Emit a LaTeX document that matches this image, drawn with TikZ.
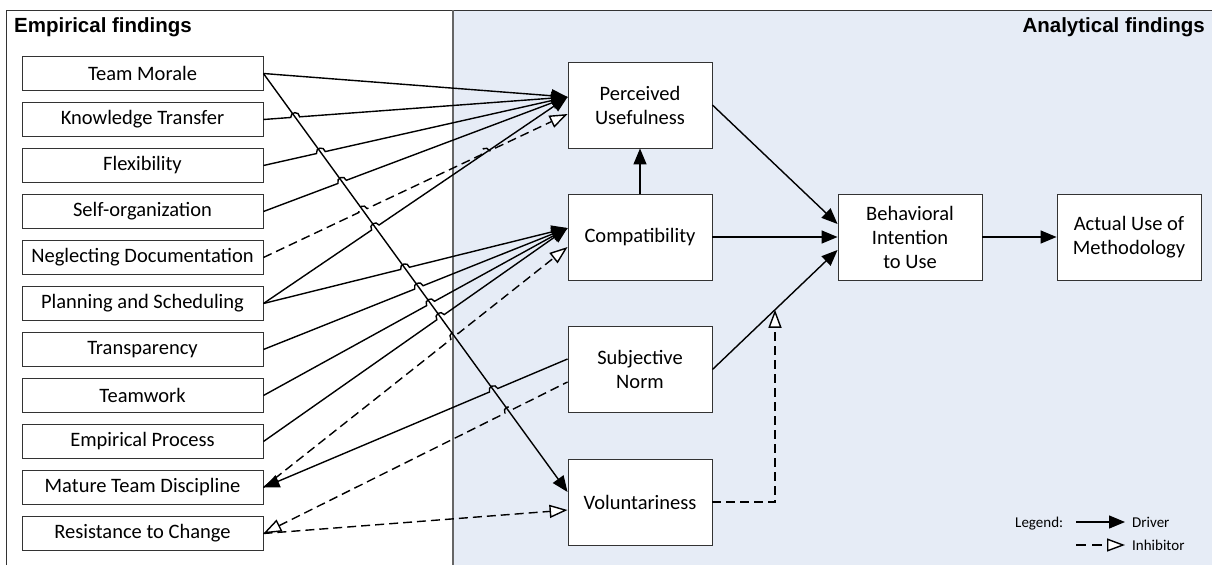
\documentclass[tikz,border=0pt]{standalone}
\usepackage{fontspec}
\setmainfont{Carlito}
\newfontfamily\titlefont{Liberation Sans}
\usetikzlibrary{arrows.meta,calc,intersections}
\definecolor{bgblue}{RGB}{230,236,246}
% hop over the path named #4: style, from, to, path name
\newcommand\crosshop[4]{%
  \path[name path=hoptmp] (#2) -- (#3);
  \path[name intersections={of=#4 and hoptmp, by=hX}];
  \coordinate (hA) at ($(hX)!4.5pt!(#2)$);
  \coordinate (hB) at ($(hX)!4.5pt!(#3)$);
  \draw[#1] (#2) -- (hA) .. controls ($(hA)!6pt!90:(hX)$) and ($(hB)!6pt!-90:(hX)$) .. (hB) -- (#3);
}
\begin{document}
\begin{tikzpicture}[x=1pt,y=-1pt,
  lbox/.style={draw=black!80, line width=0.9pt, fill=white, minimum width=241pt, minimum height=34pt, inner sep=0pt, font=\fontsize{20.5}{24}\selectfont},
  rbox/.style={draw=black!80, line width=0.9pt, fill=white, minimum width=144pt, minimum height=86pt, inner sep=0pt, align=center, font=\fontsize{20.5}{24}\selectfont},
  ttl/.style={font=\titlefont\bfseries\fontsize{20.5}{24}\selectfont, inner sep=0pt},
  leg/.style={font=\fontsize{15}{17}\selectfont, inner sep=0pt, anchor=base west},
  ftip/.tip={Triangle[length=16pt,width=13pt]},
  otip/.tip={Triangle[open,fill=white,length=18pt,width=13pt]},
  drv/.style={line width=1.4pt, -ftip},
  inh/.style={line width=1.4pt, dash pattern=on 9pt off 5pt, -otip},
  drvr/.style={line width=1.4pt, ftip-},
  inhr/.style={line width=1.4pt, dash pattern=on 9pt off 5pt, otip-},
]
\useasboundingbox (0,0) rectangle (1212,565);
\fill[white] (6,10) rectangle (453,565);
\fill[bgblue] (453,10) rectangle (1212,565);
\draw[black!80, line width=1pt] (6,565) -- (6,10) -- (1212,10);
\draw[black!60, line width=1.8pt] (453,10) -- (453,565);

\node[ttl, anchor=base west] (t1) at (14,32) {Empirical findings};
\node[ttl, anchor=base east] (t2) at (1205,32) {Analytical findings};

\foreach \n/\t [count=\i from 0] in {tm/Team Morale, kt/Knowledge Transfer, fx/Flexibility, so/Self-organization, ng/Neglecting Documentation, pl/Planning and Scheduling, tr/Transparency, tw/Teamwork, ep/Empirical Process, mt/Mature Team Discipline, rc/Resistance to Change}
  \node[lbox] (\n) at (142.5, 73.5+46*\i) {\t};

\node[rbox] (pu) at (640,105) {Perceived\\Usefulness};
\node[rbox] (cp) at (640,237) {Compatibility};
\node[rbox] (sn) at (640,369.5) {Subjective\\Norm};
\node[rbox] (vo) at (640,502) {Voluntariness};
\node[rbox] (bi) at (910,237) {Behavioral\\Intention\\to Use};
\node[rbox] (au) at (1129,237) {Actual Use of\\Methodology};

\coordinate (puS) at ($(pu.west)+(0,-8)$);
\coordinate (puD) at ($(pu.west)+(0,9)$);
\coordinate (cpS) at ($(cp.west)+(0,-9)$);
\coordinate (cpD) at ($(cp.west)+(0,10)$);
\coordinate (voS) at ($(vo.west)+(0,-10)$);
\coordinate (voD) at ($(vo.west)+(0,8)$);
\coordinate (snS) at ($(sn.west)+(0,-10.5)$);
\coordinate (snD) at ($(sn.west)+(0,12.5)$);
\coordinate (biA) at ($(bi.west)+(0,-13)$);
\coordinate (biB) at ($(bi.west)+(0,13)$);
\coordinate (vj) at ($(sn.east)!0.5!(biB)$);

% long diagonal
\path[name path=diag] (tm.east) -- (voS);
\draw[drv] (tm.east) -- (voS);
\draw[drv] (tm.east) -- (puS);

\crosshop{drv}{kt.east}{puS}{diag}
\crosshop{drv}{fx.east}{puS}{diag}
\crosshop{drv}{so.east}{puS}{diag}
\path[name path=plpu] (pl.east) -- (puS);
\crosshop{drv}{pl.east}{puS}{diag}

% neglecting documentation: two hops
\path[name path=ngpu] (ng.east) -- (puD);
\path[name intersections={of=diag and ngpu, by=nX1}];
\path[name intersections={of=plpu and ngpu, by=nX2}];
\coordinate (nA1) at ($(nX1)!4.5pt!(ng.east)$);
\coordinate (nB1) at ($(nX1)!4.5pt!(puD)$);
\coordinate (nA2) at ($(nX2)!4.5pt!(ng.east)$);
\coordinate (nB2) at ($(nX2)!4.5pt!(puD)$);
\draw[inh] (ng.east) -- (nA1) .. controls ($(nA1)!6pt!90:(nX1)$) and ($(nB1)!6pt!-90:(nX1)$) .. (nB1)
  -- (nA2) .. controls ($(nA2)!6pt!90:(nX2)$) and ($(nB2)!6pt!-90:(nX2)$) .. (nB2) -- (puD);

\crosshop{drv}{pl.east}{cpS}{diag}
\crosshop{drv}{tr.east}{cpS}{diag}
\crosshop{drv}{tw.east}{cpS}{diag}
\crosshop{drv}{ep.east}{cpS}{diag}
\crosshop{inh}{mt.east}{cpD}{diag}
\crosshop{drvr}{mt.east}{snS}{diag}
\crosshop{inhr}{rc.east}{snD}{diag}
\draw[inh] (rc.east) -- (voD);

\draw[drv] (cp.north) -- (pu.south);
\draw[drv] (pu.east) -- (biA);
\draw[drv] (cp.east) -- (bi.west);
\draw[drv] (sn.east) -- (biB);
\draw[drv] (bi.east) -- (au.west);
\draw[inh] (vo.east) -| (vj);

% legend
\node[leg] (lg) at (1015,527) {Legend:};
\coordinate (l1a) at (1076,522);
\coordinate (l1b) at (1125,522);
\draw[drv] (l1a) -- (l1b);
\node[leg] (ldr) at (1132,527) {Driver};
\coordinate (l2a) at (1076,545);
\coordinate (l2b) at (1125,545);
\draw[inh, dash pattern=on 10pt off 6pt] (l2a) -- (l2b);
\node[leg] (lin) at (1132,550) {Inhibitor};
\end{tikzpicture}
\end{document}
